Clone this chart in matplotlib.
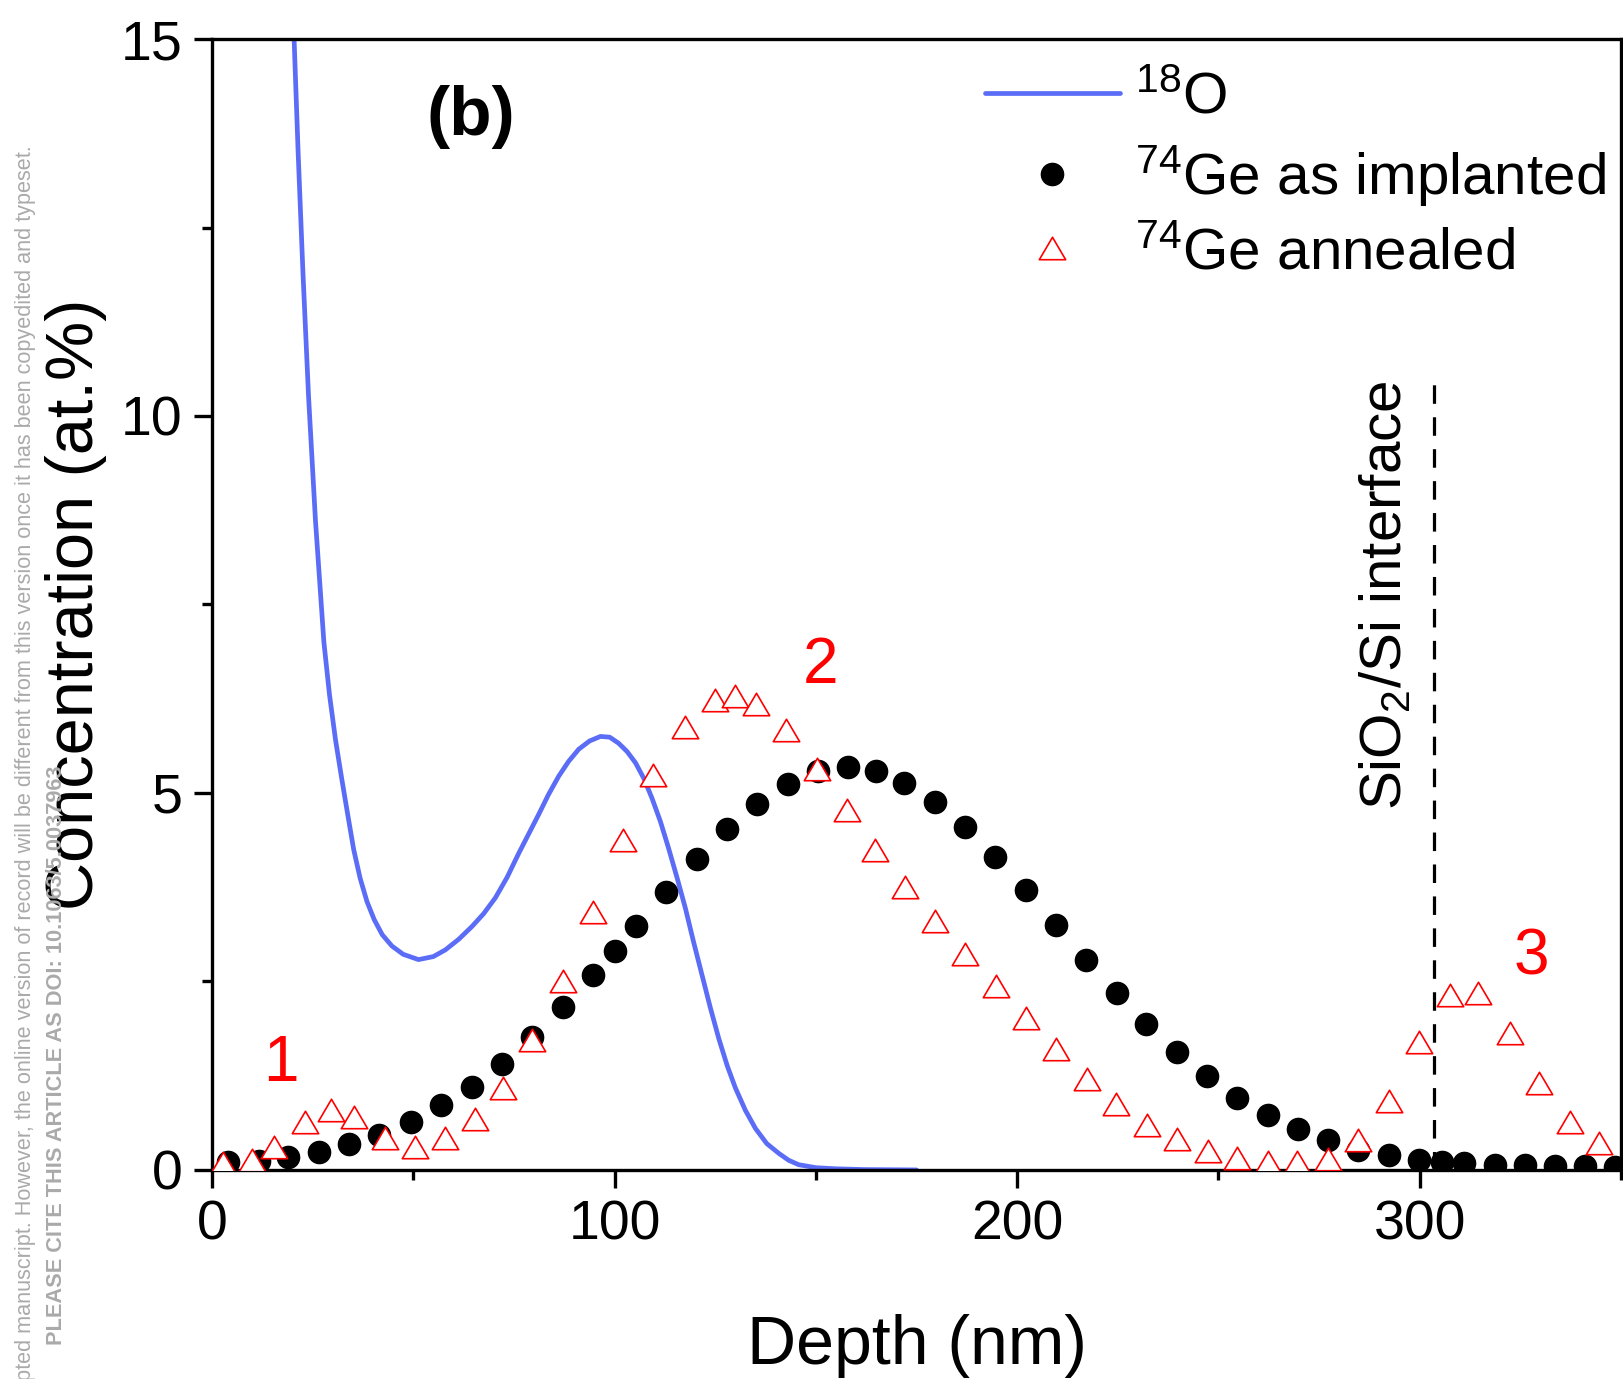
import matplotlib
matplotlib.use("Agg")
import matplotlib.pyplot as plt
from matplotlib.path import Path
from matplotlib.ticker import MultipleLocator

plt.rcParams["font.family"] = "Liberation Sans"
plt.rcParams["mathtext.fontset"] = "custom"
plt.rcParams["mathtext.rm"] = "Liberation Sans"
plt.rcParams["mathtext.it"] = "Liberation Sans:italic"
plt.rcParams["mathtext.bf"] = "Liberation Sans:bold"

# 18O profile (line)
o18_depth = [20.4, 21.4, 22.6, 24.0, 25.7, 27.8, 29.2, 30.7, 32.2, 33.7,
             35.2, 36.8, 38.5, 40.3, 42.3, 44.7, 47.5, 51.3, 55.0, 58.0,
             61.3, 64.6, 67.5, 70.4, 73.3, 76.2, 78.7, 81.1, 83.6, 86.1,
             88.6, 91.1, 93.8, 96.5, 98.8, 101.0, 103.1, 105.2, 107.3, 109.3,
             111.4, 113.4, 115.5, 117.6, 119.6, 121.7, 123.8, 125.9, 128.0, 130.0,
             132.5, 135.0, 137.8, 140.8, 143.2, 145.7, 150.0, 155.0, 162.0, 175.0]
o18_conc = [15.0, 13.5, 11.9, 10.25, 8.62, 7.0, 6.3, 5.7, 5.2, 4.72,
            4.25, 3.87, 3.56, 3.32, 3.12, 2.97, 2.86, 2.79, 2.83, 2.92,
            3.06, 3.23, 3.40, 3.61, 3.88, 4.20, 4.46, 4.71, 4.98, 5.22,
            5.42, 5.58, 5.69, 5.75, 5.74, 5.66, 5.55, 5.40, 5.19, 4.93,
            4.62, 4.27, 3.88, 3.47, 3.03, 2.59, 2.15, 1.74, 1.38, 1.09,
            0.79, 0.55, 0.35, 0.22, 0.13, 0.07, 0.03, 0.015, 0.005, 0.0]

# 74Ge as implanted
impl_depth = [3.9, 11.7, 19.0, 26.6, 34.1, 41.6, 49.4, 57.0, 64.6, 72.1,
              79.6, 87.2, 94.6, 100.0, 105.3, 112.8, 120.4, 127.9, 135.5, 143.0,
              150.6, 158.1, 165.0, 172.0, 179.5, 187.0, 194.5, 202.1, 209.6, 217.2,
              224.7, 232.1, 239.6, 247.1, 254.6, 262.2, 269.7, 277.2, 284.7, 292.3,
              299.8, 305.5, 311.0, 318.7, 326.1, 333.7, 341.1, 348.5]
impl_conc = [0.10, 0.12, 0.17, 0.24, 0.34, 0.47, 0.64, 0.86, 1.10, 1.41,
             1.76, 2.16, 2.59, 2.90, 3.23, 3.69, 4.13, 4.52, 4.86, 5.12,
             5.29, 5.34, 5.29, 5.13, 4.88, 4.55, 4.15, 3.71, 3.25, 2.79,
             2.35, 1.94, 1.56, 1.24, 0.96, 0.73, 0.54, 0.40, 0.27, 0.20,
             0.13, 0.11, 0.09, 0.07, 0.06, 0.05, 0.05, 0.04]

# 74Ge annealed
ann_depth = [2.8, 9.9, 15.5, 23.1, 29.5, 35.4, 43.0, 50.5, 58.0, 65.3,
             72.3, 79.6, 87.3, 94.7, 102.2, 109.6, 117.4, 124.9, 130.0, 135.2,
             142.7, 150.2, 157.7, 164.6, 172.1, 179.6, 187.1, 194.7, 202.2, 209.6,
             217.3, 224.6, 232.3, 239.7, 247.3, 254.6, 262.3, 269.6, 277.1, 284.6,
             292.3, 299.7, 307.4, 314.5, 322.3, 329.7, 337.3, 344.5]
ann_conc = [0.09, 0.13, 0.30, 0.64, 0.80, 0.70, 0.43, 0.31, 0.43, 0.67,
            1.09, 1.73, 2.50, 3.42, 4.37, 5.24, 5.88, 6.23, 6.28, 6.18,
            5.83, 5.32, 4.78, 4.25, 3.75, 3.30, 2.86, 2.44, 2.02, 1.61,
            1.20, 0.87, 0.60, 0.41, 0.25, 0.16, 0.11, 0.10, 0.15, 0.40,
            0.92, 1.70, 2.32, 2.35, 1.82, 1.15, 0.63, 0.36]

interface_depth = 303.5
interface_top = 10.5

# peak labels: (text, depth, conc)
peak_labels = [("1", 17.2, 1.40), ("2", 151.2, 6.69), ("3", 327.8, 2.82)]

blue = "#5b6df7"

# slightly flattened open triangle, like the original
tri = Path([(0, 0.85), (-1, -0.85), (1, -0.85), (0, 0.85)],
           [Path.MOVETO, Path.LINETO, Path.LINETO, Path.CLOSEPOLY])

fig = plt.figure(figsize=(16.23, 13.79), dpi=100)
ax = fig.add_axes([0.1306, 0.1516, 0.8682, 0.8201])

ax.plot(o18_depth, o18_conc, color=blue, lw=3.4, label="$^{18}$O",
        solid_joinstyle="round", solid_capstyle="round", zorder=2)
ax.plot(impl_depth, impl_conc, ls="none", marker="o", ms=16, color="black",
        label="$^{74}$Ge as implanted", zorder=3)
ax.plot(ann_depth, ann_conc, ls="none", marker=tri, ms=19, mfc="white",
        mec="red", mew=1.2, label="$^{74}$Ge annealed", zorder=4)

ax.plot([interface_depth, interface_depth], [0, interface_top], color="black",
        lw=2.3, dashes=(5.8, 4.2), zorder=1)
ax.text(interface_depth - 12, 7.62, "SiO$_2$/Si interface", rotation=90,
        ha="center", va="center", fontsize=42)

for txt, xd, yc in peak_labels:
    ax.text(xd, yc, txt, color="red", fontsize=46, ha="center", va="center")

ax.text(64.3, 13.97, "(b)", fontsize=50, fontweight="bold", ha="center", va="center")

ax.set_xlim(0, 350)
ax.set_ylim(0, 15)
ax.set_xticks([0, 100, 200, 300])
ax.set_yticks([0, 5, 10, 15])
ax.xaxis.set_minor_locator(MultipleLocator(50))
ax.yaxis.set_minor_locator(MultipleLocator(2.5))
ax.tick_params(which="major", direction="out", length=13, width=2.4,
               labelsize=40, pad=8)
ax.tick_params(which="minor", direction="out", length=7, width=2.4)
for sp in ax.spines.values():
    sp.set_linewidth(2.4)

ax.set_xlabel("Depth (nm)", fontsize=49, labelpad=45)
ax.set_ylabel("Concentration (at.%)", fontsize=48, labelpad=10)

ax.legend(loc="upper right", bbox_to_anchor=(1.006, 0.992), frameon=False,
          fontsize=42, handlelength=2.3, handletextpad=0.27, labelspacing=0.31,
          borderaxespad=0.0)

# journal watermark down the left edge
fig.text(0.016, 0.895,
         "This is the author's peer reviewed, accepted manuscript. However, the online "
         "version of record will be different from this version once it has been "
         "copyedited and typeset.",
         rotation=90, ha="center", va="top", fontsize=15.6, color="#aaaaaa")
fig.text(0.035, 0.445, "PLEASE CITE THIS ARTICLE AS DOI: 10.1063/5.0037963",
         rotation=90, ha="center", va="top", fontsize=15.7, fontweight="bold",
         color="#aaaaaa")

fig.savefig("out.png", dpi=100)
